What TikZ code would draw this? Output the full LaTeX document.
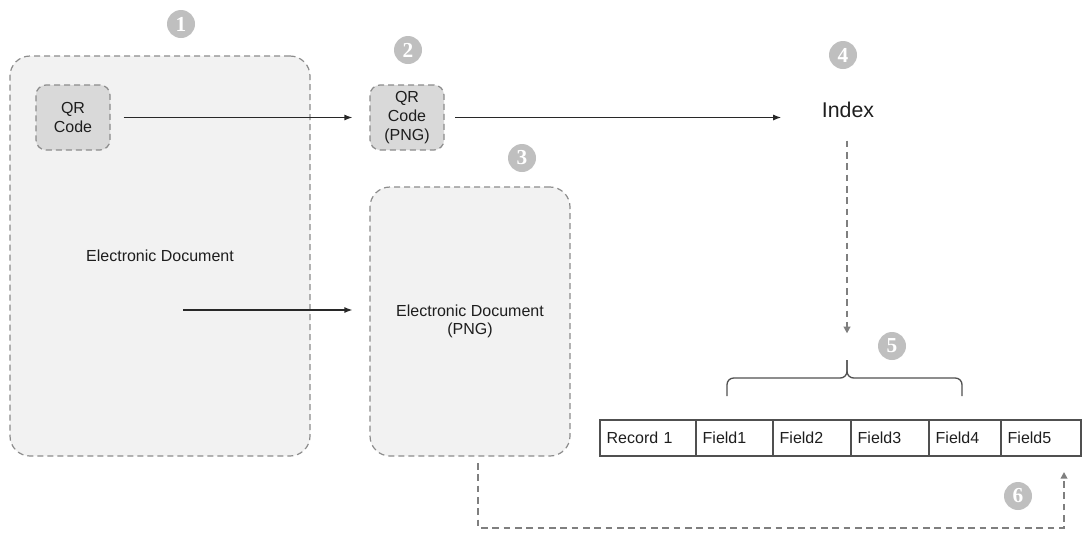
\documentclass[tikz,border=0pt]{standalone}
\usepackage{fontspec}
\setmainfont{Liberation Sans}
\newfontfamily\numfont{Liberation Serif}
\usetikzlibrary{positioning}
\usetikzlibrary{arrows.meta}

\definecolor{boxline}{RGB}{140,140,140}
\definecolor{docfill}{RGB}{242,242,242}
\definecolor{qrfill}{RGB}{217,217,217}
\definecolor{numfill}{RGB}{191,191,191}
\definecolor{cellline}{RGB}{80,80,80}
\definecolor{arrowcol}{RGB}{40,40,40}
\definecolor{dashcol}{RGB}{127,127,127}
\definecolor{textcol}{RGB}{30,30,30}

\begin{document}
\begin{tikzpicture}[x=0.75pt,y=0.75pt,yscale=-1,
  every node/.style={font=\fontsize{12}{14}\selectfont, text=textcol},
  docbox/.style={draw=boxline, fill=docfill, dash pattern=on 4.5pt off 3pt, line width=0.9pt, rounded corners=15pt, align=center},
  qrbox/.style={docbox, fill=qrfill, rounded corners=7.5pt, minimum width=55.5pt, minimum height=48.75pt, inner sep=0pt},
  stepnum/.style={circle, fill=numfill, text=white, font=\numfont\bfseries\fontsize{16}{16}\selectfont, minimum size=21pt, inner sep=0pt},
  cell/.style={draw=cellline, line width=0.9pt, minimum height=27pt, inner xsep=5pt, align=left, anchor=west, outer sep=0pt},
  flow/.style={draw=arrowcol, line width=0.9pt, -{Latex[length=6pt,width=4.5pt]}},
  link/.style={draw=dashcol, line width=1.5pt, dash pattern=on 5pt off 3.5pt, -{Triangle[length=5pt,width=5pt]}}
]
\useasboundingbox (0,0) rectangle (1084,533);

% Boxes
\node[docbox, minimum width=225pt, minimum height=300pt] (edoc) at (160,256) {Electronic Document};
\node[qrbox] (qr) at (73,117.5) {QR\\Code};
\node[qrbox] (qrpng) at (407,117.5) {QR\\Code\\(PNG)};
\node[docbox, minimum width=150pt, minimum height=201.75pt] (edocpng) at (470,321.5) {Electronic Document\\(PNG)};
\node[font=\fontsize{16}{18}\selectfont] (index) at (848,110) {Index};

% Record row
\node[cell, text width=62pt] (rec) at (600,438) {Record 1};
\node[cell, text width=47.75pt, right=0pt of rec] (f1) {Field1};
\node[cell, text width=48.5pt, right=0pt of f1] (f2) {Field2};
\node[cell, text width=48.5pt, right=0pt of f2] (f3) {Field3};
\node[cell, text width=44pt, right=0pt of f3] (f4) {Field4};
\node[cell, text width=50pt, right=0pt of f4] (f5) {Field5};

% Step numbers
\node[stepnum] (n1) at (181,24) {1};
\node[stepnum] (n2) at (408,50) {2};
\node[stepnum] (n3) at (522,158) {3};
\node[stepnum] (n4) at (843,55) {4};
\node[stepnum] (n5) at (892,346) {5};
\node[stepnum] (n6) at (1018,496) {6};

% Connectors
\coordinate (edocout) at (183,310);
\coordinate (tip) at (847,360);
\coordinate (retA) at (478,463);
\coordinate (retB) at (1064,472);

\draw[flow, shorten <=9.75pt, shorten >=12.75pt] (qr) -- (qrpng);
\draw[flow, shorten <=8pt, shorten >=27pt] (qrpng) -- (qrpng -| index.west);
\draw[flow, shorten >=12.75pt] (edocout) -- (edocout -| edocpng.west);
\draw[link, shorten <=13.5pt, shorten >=20pt] (index.south -| tip) -- (tip);
\draw[link] (retA) -- ++(0,65) -| (retB);

% Brace over fields
\draw[draw=cellline, line width=1pt, rounded corners=5pt] (727,396) -- (727,378) -- (tip |- 0,378) -- (tip);
\draw[draw=cellline, line width=1pt, rounded corners=5pt] (962,396) -- (962,378) -- (tip |- 0,378) -- (tip);

\end{tikzpicture}
\end{document}
